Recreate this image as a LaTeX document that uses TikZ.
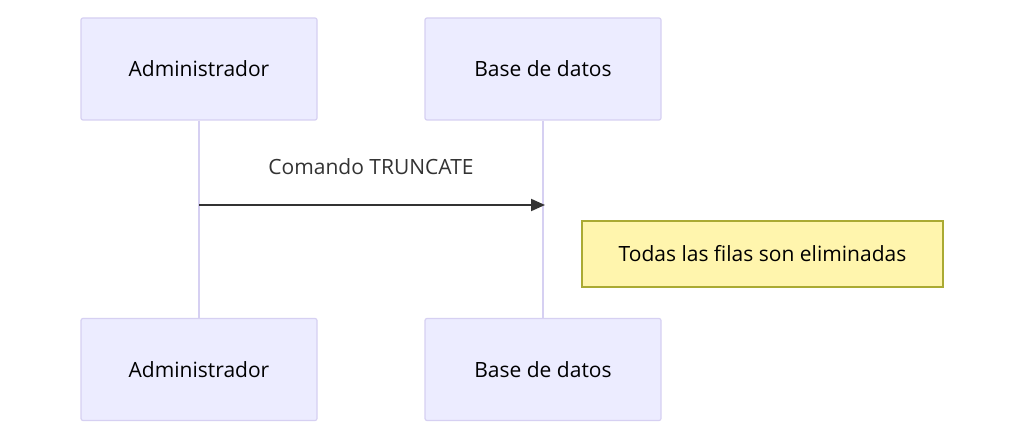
\documentclass[tikz,border=0pt]{standalone}
\usepackage{fontspec}
\setmainfont{Open Sans}
\usetikzlibrary{arrows.meta}
\begin{document}
\begin{tikzpicture}[x=1pt,y=-1pt,
  actor/.style={draw=actorline,fill=actorfill,line width=1.2pt,rounded corners=2pt,minimum width=236pt,minimum height=102pt,font=\fontsize{21}{25}\selectfont,text=black},
  life/.style={draw=actorline,line width=2pt},
  msg/.style={draw=msgline,line width=2pt,-{Triangle[length=14pt,width=12pt]}},
  notebox/.style={draw=noteline,fill=notefill,line width=1.2pt,minimum width=361pt,minimum height=66pt,font=\fontsize{21}{25}\selectfont,text=black}]
\definecolor{actorfill}{HTML}{ECECFF}
\definecolor{actorline}{HTML}{D6D0F2}
\definecolor{msgline}{HTML}{333333}
\definecolor{notefill}{HTML}{FFF5AD}
\definecolor{noteline}{HTML}{AAAA33}
\useasboundingbox[fill=white] (0,0) rectangle (1024,438);
\node[actor] (a1) at (199,69) {Administrador};
\node[actor] (b1) at (543,69) {Base de datos};
\node[actor] (a2) at (199,369.5) {Administrador};
\node[actor] (b2) at (543,369.5) {Base de datos};
\draw[life] (a1.south) -- (a2.north);
\draw[life] (b1.south) -- (b2.north);
\coordinate (s) at (199,205);
\coordinate (t) at (545,205);
\draw[msg] (s) -- (t);
\node[font=\fontsize{21}{25}\selectfont,text=msgline] (lbl) at (371,167) {Comando TRUNCATE};
\node[notebox] (n) at (762.5,254) {Todas las filas son eliminadas};
\end{tikzpicture}
\end{document}
